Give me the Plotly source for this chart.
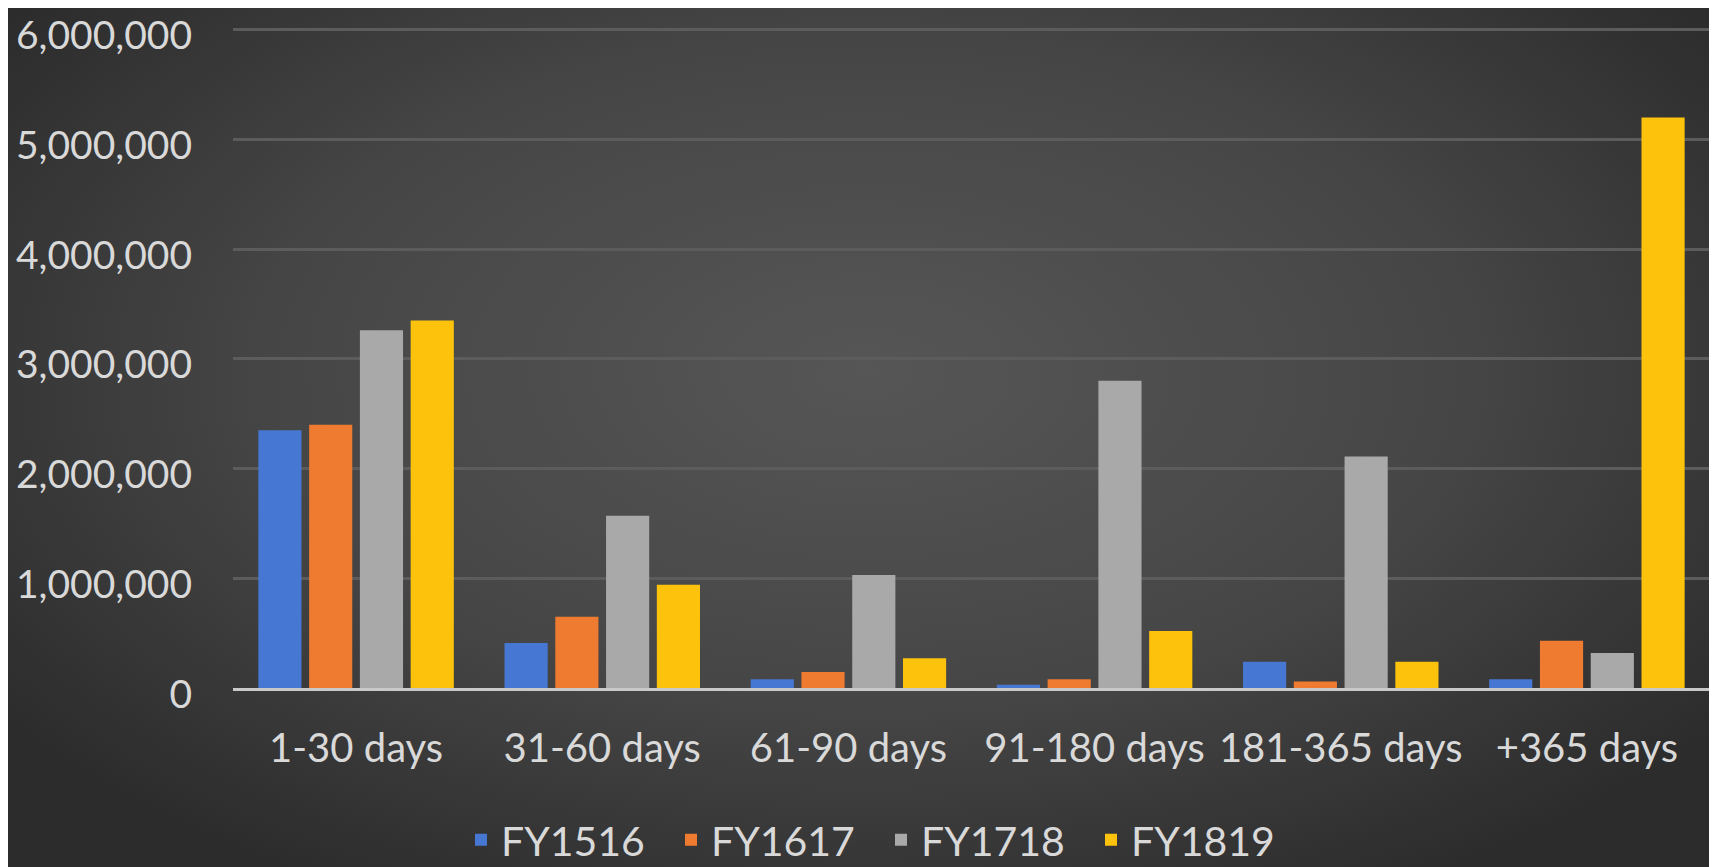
import base64
import plotly.graph_objects as go

categories = ["1-30 days", "31-60 days", "61-90 days", "91-180 days", "181-365 days", "+365 days"]
series_names = ["FY1516", "FY1617", "FY1718", "FY1819"]
fy1516 = [2350000, 410000, 80000, 30000, 240000, 80000]
fy1617 = [2400000, 650000, 145000, 80000, 60000, 430000]
fy1718 = [3260000, 1570000, 1030000, 2800000, 2110000, 320000]
fy1819 = [3350000, 940000, 270000, 520000, 240000, 5200000]
y_ticks = [0, 1000000, 2000000, 3000000, 4000000, 5000000, 6000000]

colors = ["#4677d2", "#ef7b30", "#a9a9a9", "#fdc20c"]

W, H = 1717, 867
OFF = 8  # page body offset
ML, MT = 233 - OFF, 28 - OFF
PW, PH = 1477, 660
MR = W - ML - PW
MB = H - MT - PH

svg = (
    f"<svg xmlns='http://www.w3.org/2000/svg' width='{W}' height='{H}' viewBox='0 0 {W} {H}' preserveAspectRatio='none'>"
    "<defs><radialGradient id='g' cx='0.5' cy='0.42' r='0.62' gradientTransform='translate(0.5 0.42) scale(1 1.1) translate(-0.5 -0.42)'>"
    "<stop offset='0' stop-color='#565656'/><stop offset='0.55' stop-color='#464646'/>"
    "<stop offset='1' stop-color='#2c2c2c'/></radialGradient></defs>"
    "<rect width='100%' height='100%' fill='url(#g)'/></svg>"
)
bg_uri = "data:image/svg+xml;base64," + base64.b64encode(svg.encode()).decode()

fig = go.Figure()
for name, vals, col in zip(series_names, [fy1516, fy1617, fy1718, fy1819], colors):
    fig.add_trace(go.Bar(name=name, x=categories, y=vals, marker=dict(color=col, line=dict(width=0))))

font_family = "Lato, 'Open Sans', sans-serif"
text_col = "#d9d9d9"

fig.update_layout(
    width=W, height=H,
    margin=dict(l=ML, r=MR, t=MT, b=MB, autoexpand=False),
    paper_bgcolor="#333333",
    plot_bgcolor="rgba(0,0,0,0)",
    barmode="group",
    bargap=0.175,
    bargroupgap=0.15,
    font=dict(family=font_family, color=text_col, size=40),
    images=[dict(
        source=bg_uri, xref="paper", yref="paper",
        x=-ML / PW, y=1 + MT / PH, sizex=W / PW, sizey=H / PH,
        xanchor="left", yanchor="top", sizing="stretch", layer="below",
    )],
    showlegend=True,
    legend=dict(
        orientation="h", x=(881 - OFF - ML) / PW, xanchor="center",
        y=-(840 - 688) / PH, yanchor="middle",
        font=dict(size=41, color=text_col, family=font_family),
        bgcolor="rgba(0,0,0,0)", itemwidth=30, entrywidth=165, entrywidthmode="pixels",
        traceorder="normal",
    ),
    xaxis=dict(
        showgrid=False, showline=True, linecolor="#c9c9c9", linewidth=3,
        ticks="", tickfont=dict(size=40, color=text_col), ticklabelstandoff=23,
        automargin=False,
    ),
    yaxis=dict(
        range=[0, 6015000], tickvals=y_ticks, tickformat=",d",
        showgrid=True, gridcolor="#5c5c5c", gridwidth=3,
        zeroline=False, showline=False, ticks="",
        tickfont=dict(size=39, color=text_col), ticklabelstandoff=40,
        ticklabelshift=6, ticklabeloverflow="allow", automargin=False,
    ),
)

fig.write_html("out.html")
